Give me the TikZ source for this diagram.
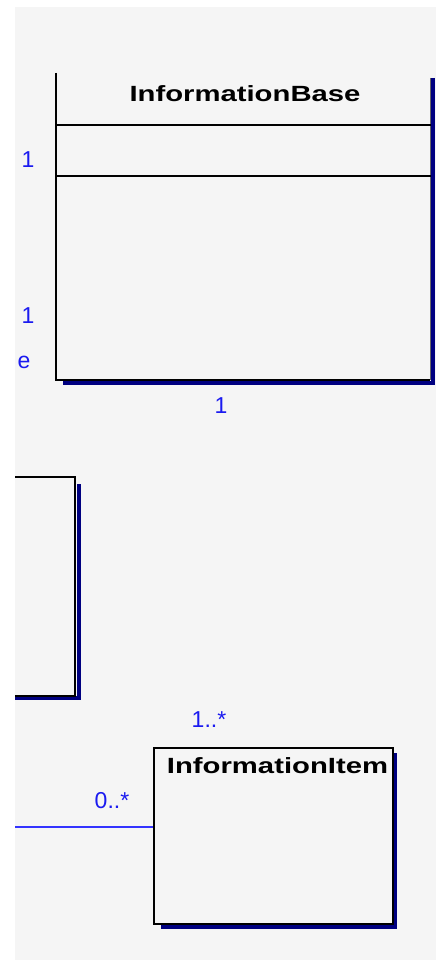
\documentclass[tikz,border=0pt]{standalone}
\usepackage{fontspec}
\setmainfont{Liberation Sans}
\definecolor{bg}{HTML}{F5F5F5}
\definecolor{shadowblue}{HTML}{000080}
\definecolor{mult}{HTML}{1A1AF0}
\definecolor{conn}{HTML}{3333FF}
\begin{document}
\begin{tikzpicture}[x=1pt,y=-1pt,
  titletext/.style={font=\fontsize{22}{22}\selectfont\bfseries, inner sep=0pt},
  multlabel/.style={text=mult, font=\fontsize{23}{23}\selectfont, inner sep=0pt},
  boxline/.style={line width=2pt, black},
  shadowline/.style={line width=4pt, shadowblue},
  connector/.style={line width=2pt, conn},
  classbox/.style={draw=black, line width=2pt, anchor=north west, inner sep=0pt}]
\useasboundingbox (0,0) rectangle (436,960);
\fill[bg] (15,7) rectangle (436,960);

% InformationBase (top edge outside the view)
\draw[shadowline] (433,78) -- (433,383) -- (63,383);
\draw[boxline] (56,73) -- (56,380) -- (430,380);
\draw[line width=1pt, black!60] (430.5,78) -- (430.5,380);
\draw[boxline] (56,125.5) -- (431,125.5);
\draw[boxline] (56,176) -- (431,176);
\node[titletext] (ibtitle) at (245,94) {\scalebox{1.33}[1]{InformationBase}};

% multiplicities near InformationBase
\node[multlabel] (m1) at (28,160) {1};
\node[multlabel] (m2) at (28,316) {1};
\node[multlabel] (m3) at (24,362) {e};
\node[multlabel] (m4) at (221,406) {1};

% left partial box
\draw[shadowline] (78.5,484) -- (78.5,698) -- (15,698);
\draw[boxline] (15,477) -- (75,477) -- (75,696) -- (15,696);

% InformationItem
\draw[shadowline] (394.5,753) -- (394.5,927) -- (161,927);
\node[classbox, minimum width=239pt, minimum height=176pt] (ii) at (153,747) {};
\node[titletext] (iititle) at (277.5,766) {\scalebox{1.33}[1]{InformationItem}};

% connector
\coordinate (cstart) at (15,827);
\draw[connector] (cstart) -- (cstart -| ii.west);
\node[multlabel] (m5) at (112,801) {0..*};
\node[multlabel] (m6) at (209,720) {1..*};
\end{tikzpicture}
\end{document}
